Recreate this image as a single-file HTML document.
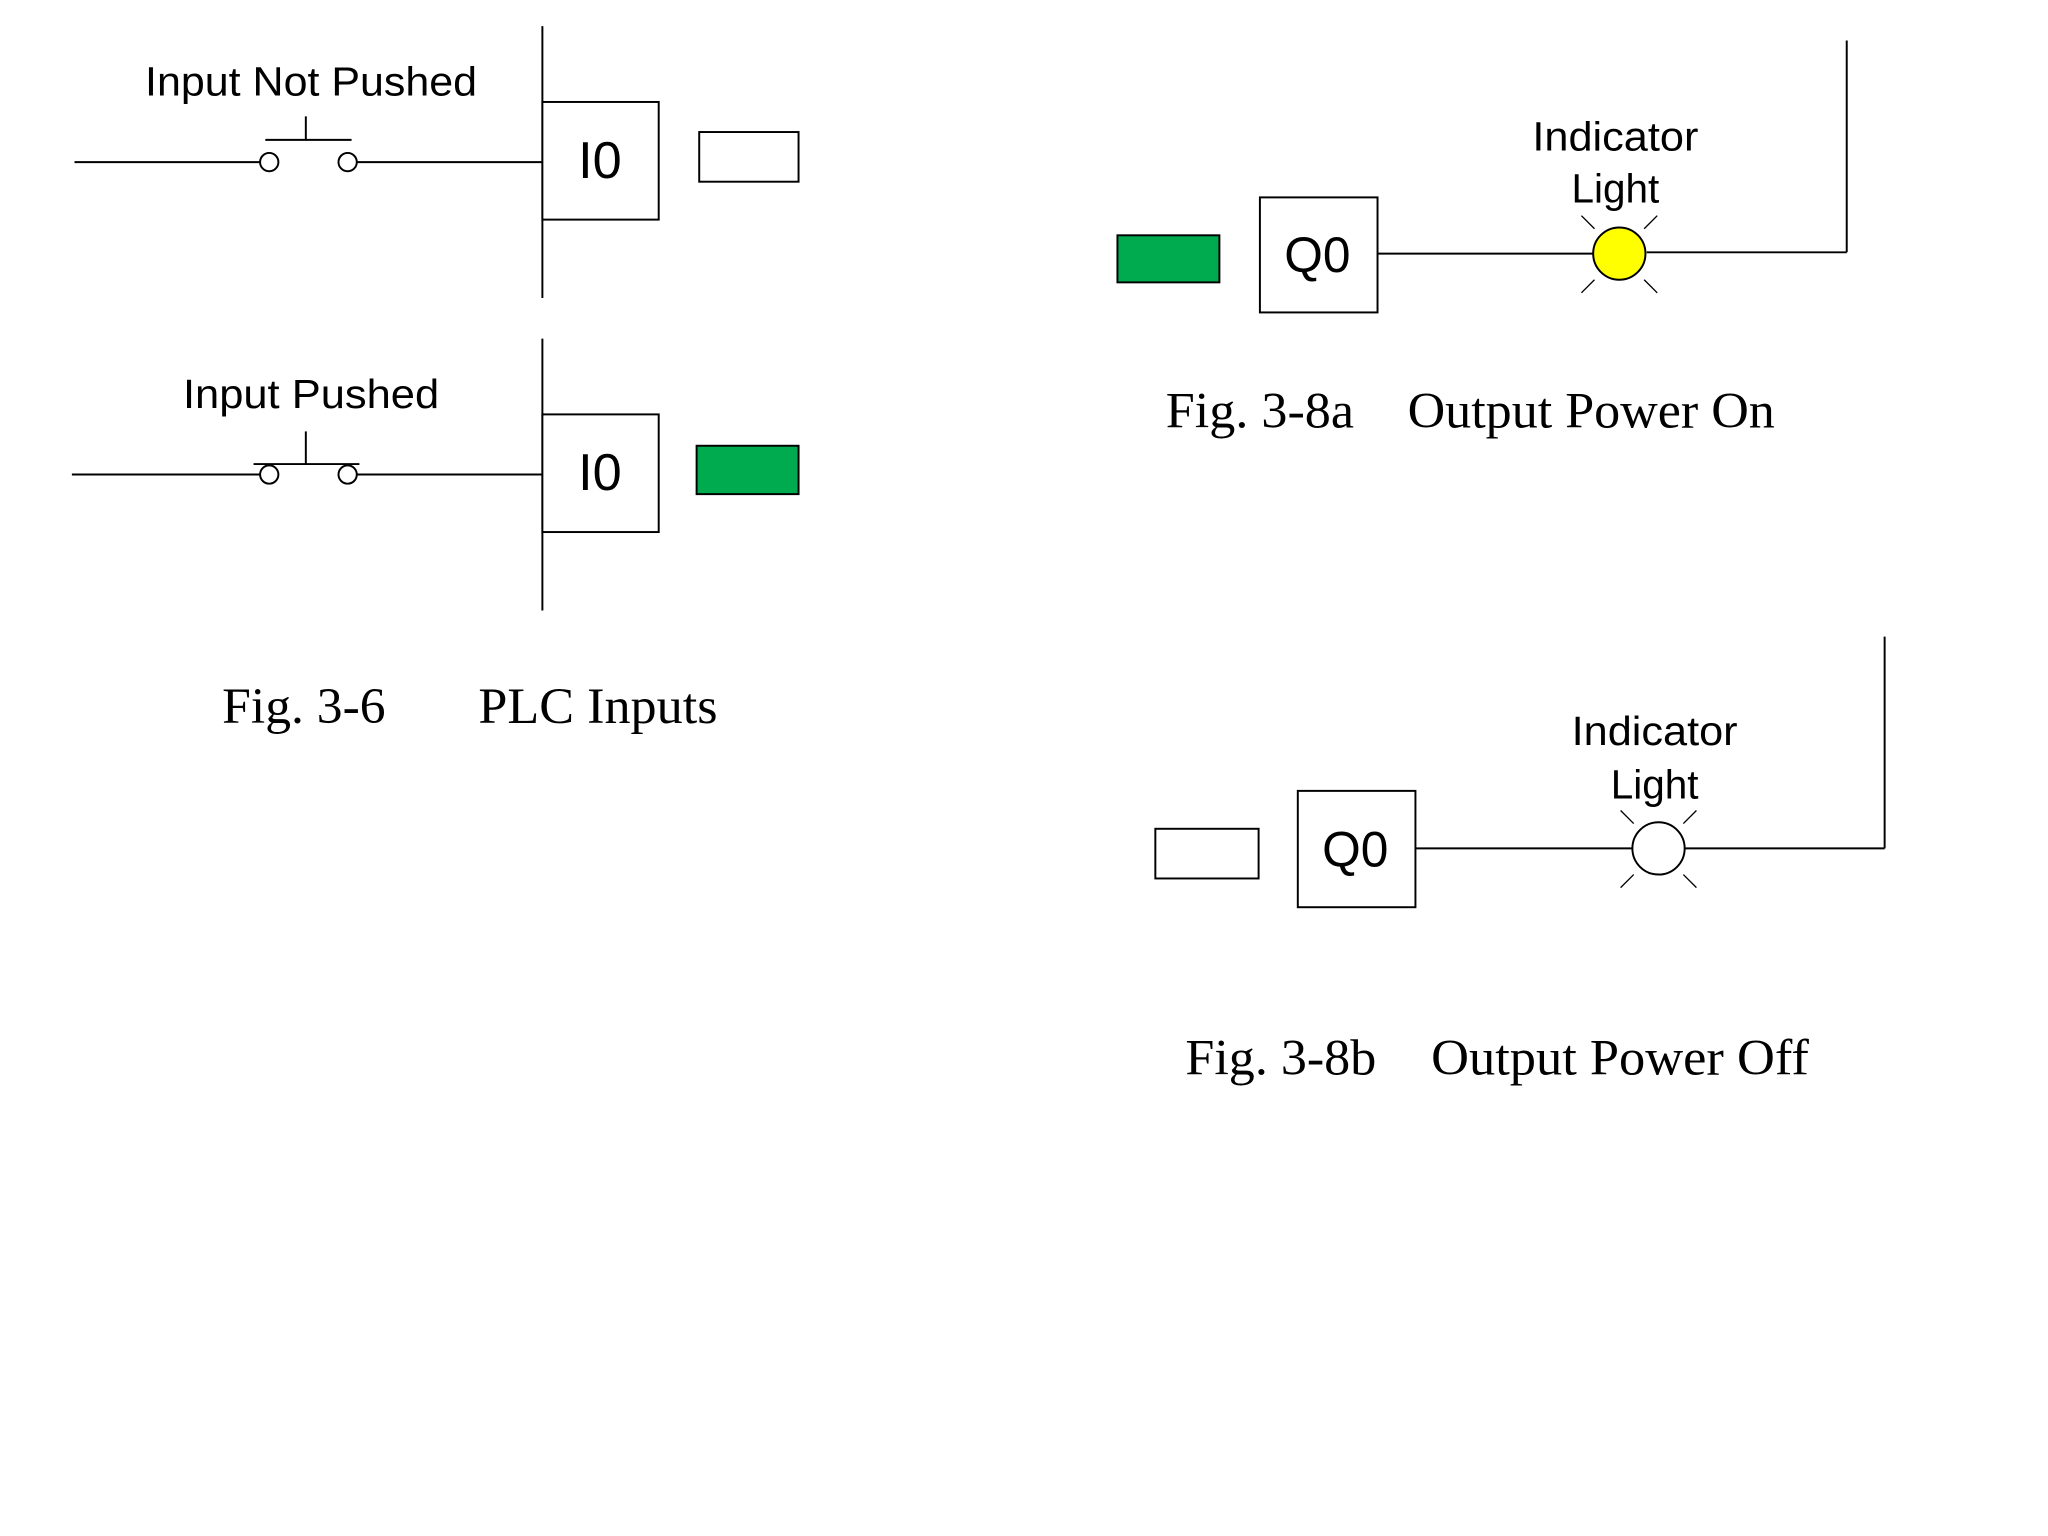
<!DOCTYPE html>
<html><head><meta charset="utf-8"><style>html,body{margin:0;padding:0;background:#fff}svg{display:block}</style></head>
<body>
<svg width="2048" height="1536" viewBox="0 0 1567 1175" preserveAspectRatio="none" xmlns="http://www.w3.org/2000/svg">
<rect width="1567" height="1175" fill="#fff"/>
<g stroke="#000" stroke-width="1.5" fill="none">
<line x1="415" y1="20" x2="415" y2="228"/>
<rect x="415" y="78" width="89" height="90" fill="#fff"/>
<line x1="57" y1="124" x2="199" y2="124"/>
<line x1="273" y1="124" x2="415" y2="124"/>
<ellipse cx="206" cy="124" rx="7" ry="7" fill="#fff"/>
<ellipse cx="266" cy="124" rx="7" ry="7" fill="#fff"/>
<line x1="203" y1="107" x2="269" y2="107"/>
<line x1="234" y1="89" x2="234" y2="107"/>
<rect x="535" y="101" width="76" height="38" fill="#fff"/>
<line x1="415" y1="259" x2="415" y2="467"/>
<rect x="415" y="317" width="89" height="90" fill="#fff"/>
<line x1="55" y1="363" x2="199" y2="363"/>
<line x1="273" y1="363" x2="415" y2="363"/>
<ellipse cx="206" cy="363" rx="7" ry="7" fill="#fff"/>
<ellipse cx="266" cy="363" rx="7" ry="7" fill="#fff"/>
<line x1="194" y1="355" x2="275" y2="355"/>
<line x1="234" y1="330" x2="234" y2="355"/>
<rect x="533" y="341" width="78" height="37" fill="#00aa4f"/>
<rect x="855" y="180" width="78" height="36" fill="#00aa4f"/>
<rect x="964" y="151" width="90" height="88" fill="#fff"/>
<line x1="1054" y1="194" x2="1219" y2="194"/>
<line x1="1260" y1="193" x2="1413" y2="193"/>
<line x1="1413" y1="31" x2="1413" y2="193"/>
<circle cx="1239" cy="194" r="20" fill="#ffff00"/>
<g stroke-width="1">
<line x1="1210" y1="165" x2="1220" y2="175"/><line x1="1268" y1="165" x2="1258" y2="175"/>
<line x1="1210" y1="224" x2="1220" y2="214"/><line x1="1268" y1="224" x2="1258" y2="214"/>
</g>
<rect x="884" y="634" width="79" height="38" fill="#fff"/>
<rect x="993" y="605" width="90" height="89" fill="#fff"/>
<line x1="1083" y1="649" x2="1249" y2="649"/>
<line x1="1289" y1="649" x2="1442" y2="649"/>
<line x1="1442" y1="487" x2="1442" y2="649"/>
<circle cx="1269" cy="649" r="20" fill="#fff"/>
<g stroke-width="1">
<line x1="1240" y1="620" x2="1250" y2="630"/><line x1="1298" y1="620" x2="1288" y2="630"/>
<line x1="1240" y1="679" x2="1250" y2="669"/><line x1="1298" y1="679" x2="1288" y2="669"/>
</g>
</g>
<g font-family="Liberation Sans, sans-serif" fill="#000" text-anchor="middle">
<text x="238" y="73" font-size="31" textLength="254" lengthAdjust="spacingAndGlyphs">Input Not Pushed</text>
<text x="238" y="312" font-size="31" textLength="196" lengthAdjust="spacingAndGlyphs">Input Pushed</text>
<text x="459" y="136" font-size="40">I0</text>
<text x="459" y="375" font-size="40">I0</text>
<text x="1008" y="208" font-size="38">Q0</text>
<text x="1037" y="663" font-size="38">Q0</text>
<text x="1236" y="115" font-size="31" textLength="127" lengthAdjust="spacingAndGlyphs">Indicator</text>
<text x="1236" y="155" font-size="31">Light</text>
<text x="1266" y="570" font-size="31" textLength="127" lengthAdjust="spacingAndGlyphs">Indicator</text>
<text x="1266" y="611" font-size="31">Light</text>
</g>
<g font-family="Liberation Serif, serif" fill="#000" font-size="39">
<text x="170" y="553" textLength="125" lengthAdjust="spacingAndGlyphs">Fig. 3-6</text>
<text x="366" y="553" textLength="183" lengthAdjust="spacingAndGlyphs">PLC Inputs</text>
<text x="892" y="327" textLength="144" lengthAdjust="spacingAndGlyphs">Fig. 3-8a</text>
<text x="1077" y="327" textLength="281" lengthAdjust="spacingAndGlyphs">Output Power On</text>
<text x="907" y="822" textLength="146" lengthAdjust="spacingAndGlyphs">Fig. 3-8b</text>
<text x="1095" y="822" textLength="289" lengthAdjust="spacingAndGlyphs">Output Power Off</text>
</g>
</svg>
</body></html>
